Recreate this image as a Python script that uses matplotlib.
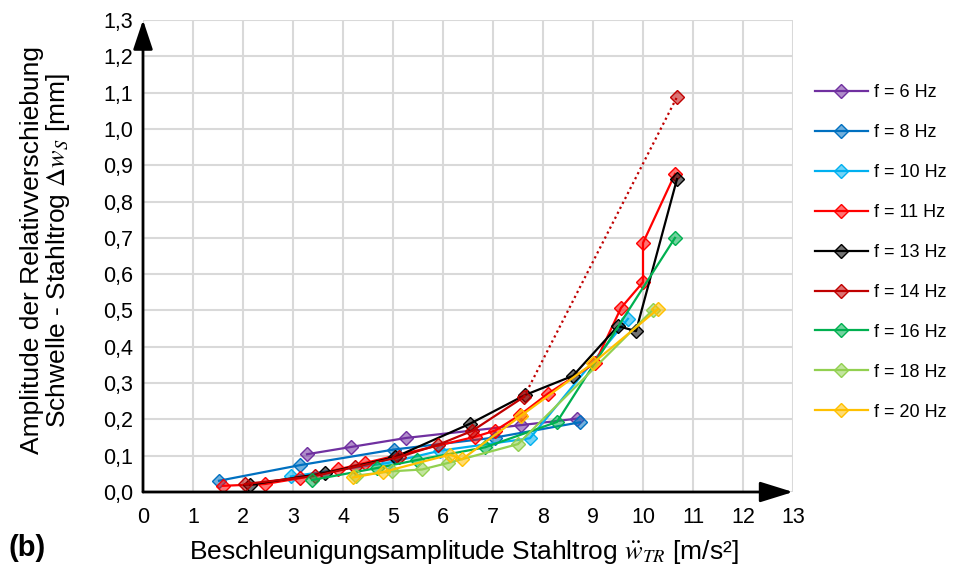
import matplotlib
matplotlib.use("Agg")
import matplotlib.pyplot as plt
from matplotlib.colors import to_rgba
from matplotlib.ticker import MultipleLocator, FuncFormatter

plt.rcParams["font.family"] = ["Liberation Sans", "DejaVu Sans"]
plt.rcParams["mathtext.fontset"] = "stix"

# values
f6_x = [3.28, 4.16, 5.27, 7.55, 8.68]
f6_y = [0.104, 0.124, 0.149, 0.184, 0.202]

f8_x = [1.52, 3.14, 5.02, 7.04, 8.74]
f8_y = [0.031, 0.074, 0.117, 0.150, 0.192]

f10_x = [2.96, 4.90, 5.95, 7.74, 9.70]
f10_y = [0.043, 0.080, 0.114, 0.148, 0.477]

f11_x = [1.60, 2.44, 3.14, 3.90, 4.44, 6.64, 7.04, 7.54, 8.10, 9.04, 9.56, 10.00, 10.00, 10.64]
f11_y = [0.017, 0.022, 0.038, 0.062, 0.080, 0.152, 0.169, 0.212, 0.271, 0.355, 0.507, 0.578, 0.686, 0.876]

f13_x = [2.14, 3.64, 5.04, 6.54, 7.64, 8.60, 9.50, 9.86, 10.68]
f13_y = [0.020, 0.052, 0.096, 0.188, 0.267, 0.320, 0.457, 0.443, 0.862]

f14_x = [2.04, 3.44, 4.24, 5.12, 5.90, 6.58, 7.62]
f14_y = [0.022, 0.044, 0.069, 0.096, 0.130, 0.168, 0.262]
f14_extra_x = 10.68
f14_extra_y = 1.088

f16_x = [3.38, 4.68, 5.48, 6.84, 8.28, 10.64]
f16_y = [0.033, 0.066, 0.088, 0.123, 0.193, 0.700]

f18_x = [4.25, 4.98, 5.58, 6.10, 7.50, 10.20]
f18_y = [0.045, 0.057, 0.062, 0.080, 0.132, 0.502]

f20_x = [4.20, 4.80, 6.14, 6.38, 7.56, 9.00, 10.30]
f20_y = [0.040, 0.055, 0.103, 0.090, 0.210, 0.355, 0.504]

series = [
    ("f = 6 Hz", f6_x, f6_y, "#7030A0"),
    ("f = 8 Hz", f8_x, f8_y, "#0070C0"),
    ("f = 10 Hz", f10_x, f10_y, "#00B0F0"),
    ("f = 11 Hz", f11_x, f11_y, "#FF0000"),
    ("f = 13 Hz", f13_x, f13_y, "#000000"),
    ("f = 14 Hz", f14_x, f14_y, "#C00000"),
    ("f = 16 Hz", f16_x, f16_y, "#00B050"),
    ("f = 18 Hz", f18_x, f18_y, "#92D050"),
    ("f = 20 Hz", f20_x, f20_y, "#FFC000"),
]

fig = plt.figure(figsize=(9.54, 5.71), dpi=100)
ax = fig.add_axes([143 / 954, 1 - 492 / 571, 650 / 954, 472 / 571])

for label, xs, ys, c in series:
    ax.plot(xs, ys, color=c, lw=1.6, marker="D", markersize=7,
            markerfacecolor=to_rgba(c, 0.55), markeredgecolor=c,
            markeredgewidth=1.0, label=label, zorder=3)
    if label == "f = 14 Hz":
        ax.plot([xs[-1], f14_extra_x], [ys[-1], f14_extra_y], color=c, lw=1.6,
                ls=(0, (1, 1.5)), zorder=3)
        ax.plot([f14_extra_x], [f14_extra_y], ls="none", marker="D", markersize=7,
                markerfacecolor=to_rgba(c, 0.55), markeredgecolor=c,
                markeredgewidth=1.0, zorder=3)

ax.set_xlim(0, 13)
ax.set_ylim(0, 1.3)
ax.xaxis.set_major_locator(MultipleLocator(1))
ax.yaxis.set_major_locator(MultipleLocator(0.1))
ax.yaxis.set_major_formatter(FuncFormatter(lambda v, p: f"{v:.1f}".replace(".", ",")))
ax.grid(True, color="#D9D9D9", lw=1.5, zorder=0)
ax.set_axisbelow(True)
for s in ax.spines.values():
    s.set_visible(False)
ax.tick_params(length=0, labelsize=15.5)
ax.tick_params(axis="x", pad=11)
ax.tick_params(axis="y", pad=7)

# axis arrows
ax.annotate("", xy=(1.0, 0), xytext=(0, 0), xycoords="axes fraction",
            arrowprops=dict(arrowstyle="-|>,head_length=1.35,head_width=0.42",
                            color="black", lw=2, mutation_scale=15, shrinkA=0, shrinkB=0),
            annotation_clip=False, zorder=5)
ax.annotate("", xy=(0, 1.0), xytext=(0, 0), xycoords="axes fraction",
            arrowprops=dict(arrowstyle="-|>,head_length=1.2,head_width=0.4",
                            color="black", lw=2, mutation_scale=15, shrinkA=0, shrinkB=0),
            annotation_clip=False, zorder=5)

fig.text(464 / 954, 1 - 552 / 571, r"Beschleunigungsamplitude Stahltrog $\ddot{w}_{TR}$ [m/s²]",
         ha="center", va="center", fontsize=19)
fig.text(46 / 954, 1 - 250 / 571,
         "Amplitude der Relativverschiebung\n" + r"Schwelle - Stahltrog $\Delta w_S$ [mm]",
         ha="center", va="center", rotation=90, fontsize=19, multialignment="center",
         linespacing=1.0)
fig.text(8 / 954, 1 - 548 / 571, "(b)", ha="left", va="center", fontsize=21, fontweight="bold")

fig.legend(loc="upper left", bbox_to_anchor=(808 / 954, 1 - 77 / 571), frameon=False,
           fontsize=13, handlelength=2.9, handletextpad=0.35, labelspacing=1.27,
           borderaxespad=0)

fig.savefig("out.png", dpi=100)
